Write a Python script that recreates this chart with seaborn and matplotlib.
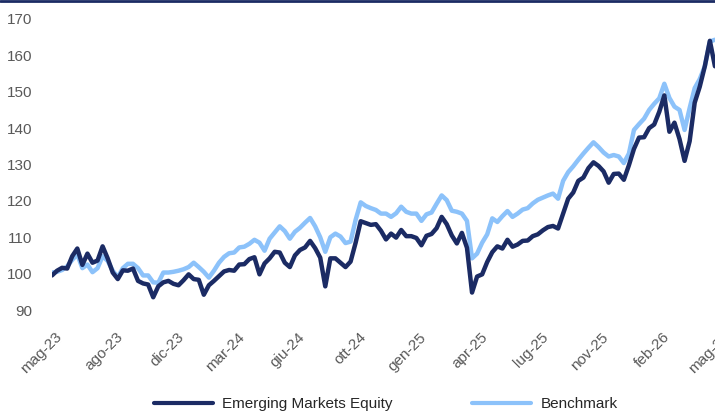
import matplotlib
matplotlib.use("Agg")
import matplotlib.pyplot as plt
import matplotlib.transforms as mtransforms
import seaborn as sns
import pandas as pd

# Values, evenly spaced along a category axis (about weekly)
em_equity = [
    99.5, 100.8, 101.6, 101.4, 104.8, 106.9, 102.4, 105.5, 103.0, 103.6,
    107.5, 104.2, 100.3, 98.5, 100.9, 100.8, 101.4, 98.0, 97.3, 97.0,
    93.5, 96.5, 97.6, 98.0, 97.2, 96.8, 98.2, 99.8, 98.5, 98.3,
    94.2, 96.8, 98.0, 99.3, 100.6, 101.0, 100.8, 102.5, 102.6, 104.0,
    104.5, 99.8, 102.8, 104.2, 106.0, 105.8, 103.0, 101.8, 105.0, 106.5,
    107.2, 109.0, 107.0, 104.4, 96.5, 104.2, 104.2, 103.0, 101.8, 103.3,
    108.5, 114.4, 113.9, 113.4, 113.6, 111.8, 109.4, 111.0, 109.9, 112.0,
    110.3, 110.3, 109.8, 107.8, 110.4, 110.9, 112.5, 115.6, 113.6, 110.5,
    108.3, 111.2, 107.1, 94.8, 99.2, 99.8, 103.2, 105.9, 107.5, 106.9,
    109.3, 107.4, 108.0, 109.0, 109.1, 110.3, 110.8, 111.9, 112.8, 113.1,
    112.4, 116.5, 120.6, 122.3, 125.5, 126.4, 129.0, 130.6, 129.6, 128.1,
    125.0, 127.4, 127.5, 125.8, 129.8, 134.3, 137.4, 137.5, 140.0, 141.0,
    144.5, 149.0, 139.0, 141.5, 137.0, 131.0, 136.4, 147.0, 151.4, 157.0,
    164.0, 157.0,
]
benchmark = [
    100.3, 100.5, 101.0, 102.0, 103.8, 105.3, 101.5, 102.5, 100.4, 101.5,
    104.8, 103.5, 100.8, 99.0, 101.5, 102.7, 102.7, 101.5, 99.5, 99.5,
    97.6, 97.5, 100.3, 100.3, 100.5, 100.8, 101.2, 101.8, 103.0, 101.8,
    100.5, 98.9, 100.8, 103.0, 104.6, 105.6, 105.8, 107.2, 107.4, 108.2,
    109.3, 108.5, 106.3, 109.6, 111.3, 113.0, 111.7, 109.6, 111.5, 112.6,
    114.0, 115.3, 113.0, 110.0, 106.0, 110.0, 111.0, 110.2, 108.4, 108.8,
    114.8, 119.6, 118.6, 118.0, 117.5, 116.5, 116.5, 115.6, 116.6, 118.4,
    117.0, 116.5, 116.5, 114.5, 116.3, 116.8, 119.2, 121.5, 120.2, 117.3,
    117.0, 116.5, 114.5, 104.2, 105.5, 108.5, 110.8, 115.2, 114.2, 115.8,
    117.2, 115.6, 116.5, 117.6, 118.0, 119.3, 120.3, 120.9, 121.5, 122.0,
    120.6, 125.5, 127.9, 129.5, 131.3, 133.0, 134.6, 136.1, 134.8, 133.3,
    132.2, 132.6, 132.2, 130.4, 133.0, 139.5, 141.1, 142.6, 145.0, 146.7,
    148.2, 152.2, 148.3, 145.9, 145.0, 139.5, 145.5, 151.0, 153.5, 157.0,
    163.8, 164.3,
]
tick_labels = ["mag-23", "ago-23", "dic-23", "mar-24", "giu-24", "ott-24",
               "gen-25", "apr-25", "lug-25", "nov-25", "feb-26", "mag-26"]
tick_step = 12
y_ticks = [90, 100, 110, 120, 130, 140, 150, 160, 170]

navy = "#1b2b64"
light = "#8cc2fa"
gray = "#595959"

df = pd.DataFrame({"idx": range(len(em_equity)),
                   "Emerging Markets Equity": em_equity,
                   "Benchmark": benchmark})

sns.set_style("white")
plt.rcParams["font.family"] = ["Liberation Sans", "DejaVu Sans"]

fig = plt.figure(figsize=(7.15, 4.12), dpi=100)
ax = fig.add_axes([52 / 715, 102 / 412, 668 / 715, 291 / 412])

# benchmark underneath, fund on top
sns.lineplot(data=df, x="idx", y="Benchmark", ax=ax, color=light, lw=3.2,
             label="Benchmark")
sns.lineplot(data=df, x="idx", y="Emerging Markets Equity", ax=ax, color=navy,
             lw=3.2, label="Emerging Markets Equity")

ax.set_xlim(0, tick_step * (len(tick_labels) - 1))
ax.set_ylim(90, 170)
ax.set_yticks(y_ticks)
ax.set_xticks([i * tick_step for i in range(len(tick_labels))])
ax.set_xticklabels(tick_labels)
ax.set_xlabel("")
ax.set_ylabel("")
sns.despine(ax=ax, left=True, bottom=True)
ax.tick_params(axis="y", length=0, pad=14.4, labelsize=11, labelcolor=gray)
ax.tick_params(axis="x", length=0, pad=18, labelsize=11, labelcolor=gray)

# rotated labels end just right of their category position, as in Excel
shift = mtransforms.ScaledTranslation(8 / 100, 0, fig.dpi_scale_trans)
for lab in ax.get_xticklabels():
    lab.set_rotation(45)
    lab.set_ha("right")
    lab.set_va("center")
    lab.set_rotation_mode("anchor")
    lab.set_transform(lab.get_transform() + shift)

handles, labels = ax.get_legend_handles_labels()
leg = ax.legend(handles[::-1], labels[::-1], loc="center",
                bbox_to_anchor=(0.5, -0.323), ncol=2, frameon=False,
                fontsize=11, handlelength=3.85, handletextpad=0.6,
                columnspacing=5.2)
for line in leg.get_lines():
    line.set_linewidth(3)

# thin navy rule across the top
fig.add_artist(plt.Line2D([0, 1], [0.997, 0.997], transform=fig.transFigure,
                          color=navy, lw=2))

fig.savefig("out.png", dpi=100)
